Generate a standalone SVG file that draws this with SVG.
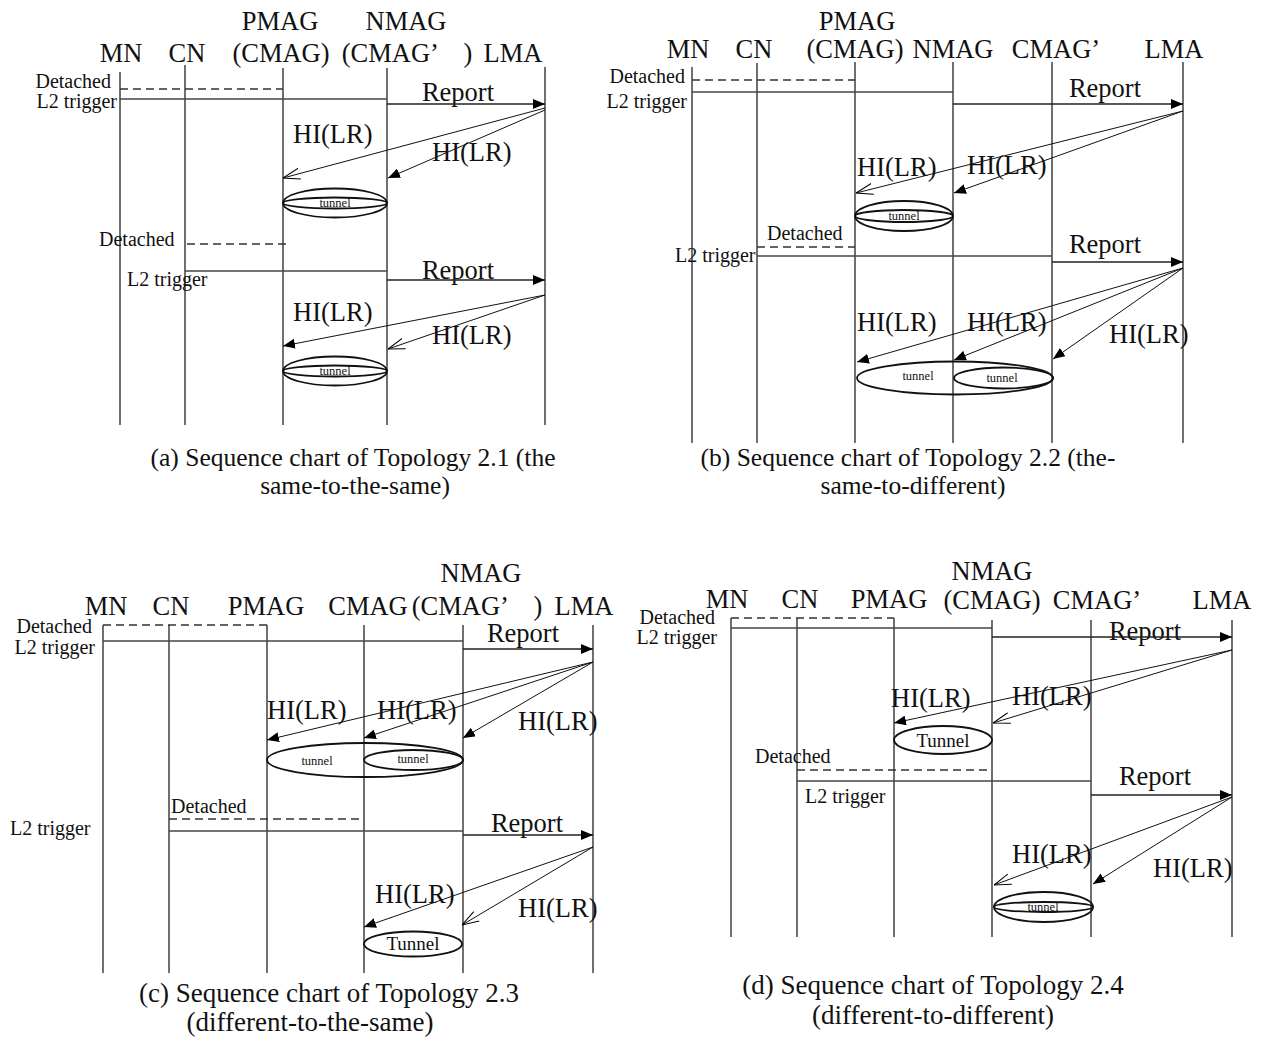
<svg xmlns="http://www.w3.org/2000/svg" width="1270" height="1041" viewBox="0 0 1270 1041">
<defs>
<style>
text{font-family:"Liberation Serif","Times New Roman","Noto Sans CJK SC",serif;fill:#111}
.h{font-size:26.5px;text-anchor:middle}
.lbl{font-size:26.5px}
.sm{font-size:20px}
.tn{font-size:12.5px;text-anchor:middle}
.Tn{font-size:19px;text-anchor:middle}
.cap{font-size:25.5px;text-anchor:middle}
.cap2{font-size:27px;text-anchor:middle}
.ll{stroke:#222;stroke-width:1.3}
.sol{stroke:#444;stroke-width:1.3}
.dsh{stroke:#333;stroke-width:1.3;stroke-dasharray:8,5}
.rep{stroke:#222;stroke-width:1.3;marker-end:url(#af)}
.hif{stroke:#111;stroke-width:1;marker-end:url(#af)}
.hio{stroke:#111;stroke-width:1;marker-end:url(#ao)}
.el{fill:none;stroke:#111;stroke-width:1.8}
</style>
<marker id="af" viewBox="0 0 12 10" markerWidth="12" markerHeight="10" refX="12" refY="5" orient="auto" markerUnits="userSpaceOnUse"><path d="M0,0 L12,5 L0,10 z" fill="#000"/></marker>
<marker id="ao" viewBox="0 0 17 12" markerWidth="17" markerHeight="12" refX="17" refY="6" orient="auto" markerUnits="userSpaceOnUse"><path d="M0,0.5 L17,6 L0,11.5" fill="none" stroke="#000" stroke-width="1"/></marker>
</defs>

<!-- Panel (a) -->
<g id="panel-a">
<g id="a-MN"><text class="h" x="121" y="62">MN</text><line class="ll" x1="120" y1="72" x2="120" y2="425"/></g>
<g id="a-CN"><text class="h" x="187" y="62">CN</text><line class="ll" x1="185" y1="65" x2="185" y2="425"/></g>
<g id="a-PMAG"><text class="h" x="280" y="30">PMAG</text><text class="h" x="281" y="62">(CMAG)</text><line class="ll" x1="283" y1="68" x2="283" y2="425"/></g>
<g id="a-NMAG"><text class="h" x="406" y="30">NMAG</text><text class="h" x="407" y="62">(CMAG’　)</text><line class="ll" x1="387" y1="68" x2="387" y2="425"/></g>
<g id="a-LMA"><text class="h" x="513" y="62">LMA</text><line class="ll" x1="545" y1="67" x2="545" y2="425"/></g>
<g id="a-tunnel1"><ellipse class="el" cx="335" cy="203" rx="52" ry="14.5"/><ellipse class="el" cx="335" cy="203" rx="52" ry="5.5"/><text class="tn" x="335" y="207">tunnel</text></g>
<g id="a-tunnel2"><ellipse class="el" cx="335" cy="371" rx="52" ry="14.5"/><ellipse class="el" cx="335" cy="371" rx="52" ry="5.5"/><text class="tn" x="335" y="375">tunnel</text></g>
<text class="sm" x="111" y="88" text-anchor="end">Detached</text>
<text class="sm" x="117" y="108" text-anchor="end">L2 trigger</text>
<text class="lbl" x="458" y="101" text-anchor="middle">Report</text>
<text class="lbl" x="293" y="143">HI(LR)</text>
<text class="lbl" x="432" y="161">HI(LR)</text>
<text class="sm" x="99" y="246">Detached</text>
<text class="sm" x="127" y="286">L2 trigger</text>
<text class="lbl" x="458" y="279" text-anchor="middle">Report</text>
<text class="lbl" x="293" y="321">HI(LR)</text>
<text class="lbl" x="432" y="344">HI(LR)</text>
<text class="cap" x="353" y="466">(a) Sequence chart of Topology 2.1 (the</text>
<text class="cap" x="355" y="494">same-to-the-same)</text>
</g>

<!-- Panel (b) -->
<g id="panel-b">
<g id="b-MN"><text class="h" x="688" y="58">MN</text><line class="ll" x1="692" y1="67" x2="692" y2="443"/></g>
<g id="b-CN"><text class="h" x="754" y="58">CN</text><line class="ll" x1="757" y1="63" x2="757" y2="443"/></g>
<g id="b-PMAG"><text class="h" x="857" y="30">PMAG</text><text class="h" x="855" y="58">(CMAG)</text><line class="ll" x1="855" y1="62" x2="855" y2="443"/></g>
<g id="b-NMAG"><text class="h" x="953" y="58">NMAG</text><line class="ll" x1="953" y1="62" x2="953" y2="443"/></g>
<g id="b-CMAG2"><text class="h" x="1056" y="58">CMAG’</text><line class="ll" x1="1052" y1="62" x2="1052" y2="443"/></g>
<g id="b-LMA"><text class="h" x="1174" y="58">LMA</text><line class="ll" x1="1183" y1="62" x2="1183" y2="443"/></g>
<g id="b-tunnel1"><ellipse class="el" cx="904" cy="216" rx="49" ry="15"/><ellipse class="el" cx="904" cy="216" rx="49" ry="6"/><text class="tn" x="904" y="220">tunnel</text></g>
<g id="b-tunnel2"><ellipse class="el" cx="955" cy="378" rx="98" ry="16.5"/><ellipse class="el" cx="1003.5" cy="378" rx="49.5" ry="10.5"/><text class="tn" x="918" y="380">tunnel</text><text class="tn" x="1002" y="382">tunnel</text></g>
<text class="sm" x="685" y="83" text-anchor="end">Detached</text>
<text class="sm" x="687" y="108" text-anchor="end">L2 trigger</text>
<text class="lbl" x="1105" y="97" text-anchor="middle">Report</text>
<text class="lbl" x="857" y="176">HI(LR)</text>
<text class="lbl" x="967" y="174">HI(LR)</text>
<text class="sm" x="767" y="240">Detached</text>
<text class="sm" x="675" y="262">L2 trigger</text>
<text class="lbl" x="1105" y="253" text-anchor="middle">Report</text>
<text class="lbl" x="857" y="331">HI(LR)</text>
<text class="lbl" x="967" y="331">HI(LR)</text>
<text class="lbl" x="1109" y="343">HI(LR)</text>
<text class="cap" x="908" y="466">(b) Sequence chart of Topology 2.2 (the-</text>
<text class="cap" x="913" y="494">same-to-different)</text>
</g>

<!-- Panel (c) -->
<g id="panel-c">
<g id="c-MN"><text class="h" x="106" y="615">MN</text><line class="ll" x1="103" y1="625" x2="103" y2="973"/></g>
<g id="c-CN"><text class="h" x="171" y="615">CN</text><line class="ll" x1="169" y1="625" x2="169" y2="973"/></g>
<g id="c-PMAG"><text class="h" x="266" y="615">PMAG</text><line class="ll" x1="267" y1="625" x2="267" y2="973"/></g>
<g id="c-CMAG"><text class="h" x="368" y="615">CMAG</text><line class="ll" x1="364" y1="625" x2="364" y2="973"/></g>
<g id="c-NMAG"><text class="h" x="481" y="582">NMAG</text><text class="h" x="477" y="615">(CMAG’　)</text><line class="ll" x1="463" y1="625" x2="463" y2="973"/></g>
<g id="c-LMA"><text class="h" x="584" y="615">LMA</text><line class="ll" x1="593" y1="625" x2="593" y2="973"/></g>
<g id="c-tunnel1"><ellipse class="el" cx="365" cy="760" rx="98" ry="17"/><ellipse class="el" cx="413.5" cy="760" rx="49.5" ry="10"/><text class="tn" x="317" y="765">tunnel</text><text class="tn" x="413" y="763">tunnel</text></g>
<g id="c-tunnel2"><ellipse class="el" cx="413" cy="944" rx="49" ry="12.5"/><text class="Tn" x="413" y="950">Tunnel</text></g>
<text class="sm" x="92" y="633" text-anchor="end">Detached</text>
<text class="sm" x="95" y="654" text-anchor="end">L2 trigger</text>
<text class="lbl" x="523" y="642" text-anchor="middle">Report</text>
<text class="lbl" x="267" y="719">HI(LR)</text>
<text class="lbl" x="377" y="719">HI(LR)</text>
<text class="lbl" x="518" y="730">HI(LR)</text>
<text class="sm" x="171" y="813">Detached</text>
<text class="sm" x="10" y="835">L2 trigger</text>
<text class="lbl" x="527" y="832" text-anchor="middle">Report</text>
<text class="lbl" x="375" y="903">HI(LR)</text>
<text class="lbl" x="518" y="917">HI(LR)</text>
<text class="cap2" x="329" y="1002">(c) Sequence chart of Topology 2.3</text>
<text class="cap2" x="310" y="1031">(different-to-the-same)</text>
</g>

<!-- Panel (d) -->
<g id="panel-d">
<g id="d-MN"><text class="h" x="727" y="608">MN</text><line class="ll" x1="731" y1="618" x2="731" y2="937"/></g>
<g id="d-CN"><text class="h" x="800" y="608">CN</text><line class="ll" x1="797" y1="618" x2="797" y2="937"/></g>
<g id="d-PMAG"><text class="h" x="889" y="608">PMAG</text><line class="ll" x1="894" y1="618" x2="894" y2="937"/></g>
<g id="d-NMAG"><text class="h" x="992" y="580">NMAG</text><text class="h" x="992" y="609">(CMAG)</text><line class="ll" x1="992" y1="620" x2="992" y2="937"/></g>
<g id="d-CMAG2"><text class="h" x="1097" y="609">CMAG’</text><line class="ll" x1="1091" y1="620" x2="1091" y2="937"/></g>
<g id="d-LMA"><text class="h" x="1222" y="609">LMA</text><line class="ll" x1="1232" y1="620" x2="1232" y2="937"/></g>
<g id="d-tunnel1"><ellipse class="el" cx="943" cy="740" rx="49" ry="14"/><text class="Tn" x="943" y="747">Tunnel</text></g>
<g id="d-tunnel2"><ellipse class="el" cx="1043.5" cy="907" rx="49.5" ry="15"/><ellipse class="el" cx="1043.5" cy="907" rx="49.5" ry="5"/><text class="tn" x="1043" y="911">tunnel</text></g>
<text class="sm" x="715" y="624" text-anchor="end">Detached</text>
<text class="sm" x="717" y="644" text-anchor="end">L2 trigger</text>
<text class="lbl" x="1145" y="640" text-anchor="middle">Report</text>
<text class="lbl" x="891" y="707">HI(LR)</text>
<text class="lbl" x="1012" y="705">HI(LR)</text>
<text class="sm" x="755" y="763">Detached</text>
<text class="sm" x="805" y="803">L2 trigger</text>
<text class="lbl" x="1155" y="785" text-anchor="middle">Report</text>
<text class="lbl" x="1012" y="863">HI(LR)</text>
<text class="lbl" x="1153" y="877">HI(LR)</text>
<text class="cap2" x="933" y="994">(d) Sequence chart of Topology 2.4</text>
<text class="cap2" x="933" y="1024">(different-to-different)</text>
</g>

<g id="connectors">
<!-- a -->
<line class="dsh" x1="120" y1="89" x2="283" y2="89"/>
<line class="sol" x1="120" y1="99" x2="387" y2="99"/>
<line class="rep" x1="387" y1="104" x2="545" y2="104"/>
<line class="hio" x1="545" y1="108" x2="283" y2="178"/>
<line class="hif" x1="545" y1="110" x2="388" y2="178"/>
<line class="dsh" x1="187" y1="244" x2="286" y2="244"/>
<line class="sol" x1="185" y1="271" x2="387" y2="271"/>
<line class="rep" x1="387" y1="280" x2="545" y2="280"/>
<line class="hif" x1="545" y1="295" x2="283" y2="346"/>
<line class="hio" x1="545" y1="295" x2="388" y2="349"/>
<!-- b -->
<line class="dsh" x1="692" y1="80" x2="855" y2="80"/>
<line class="sol" x1="692" y1="92" x2="953" y2="92"/>
<line class="rep" x1="953" y1="104" x2="1183" y2="104"/>
<line class="hio" x1="1183" y1="111" x2="856" y2="193"/>
<line class="hif" x1="1183" y1="111" x2="954" y2="193"/>
<line class="dsh" x1="757" y1="247" x2="855" y2="247"/>
<line class="sol" x1="757" y1="256" x2="1052" y2="256"/>
<line class="rep" x1="1052" y1="262" x2="1183" y2="262"/>
<line class="hif" x1="1183" y1="268" x2="857" y2="362"/>
<line class="hif" x1="1183" y1="268" x2="954" y2="360"/>
<line class="hif" x1="1183" y1="268" x2="1053" y2="359"/>
<!-- c -->
<line class="dsh" x1="103" y1="625" x2="267" y2="625"/>
<line class="sol" x1="103" y1="641" x2="463" y2="641"/>
<line class="rep" x1="463" y1="649" x2="593" y2="649"/>
<line class="hif" x1="593" y1="662" x2="267" y2="740"/>
<line class="hif" x1="593" y1="662" x2="364" y2="738"/>
<line class="hif" x1="593" y1="662" x2="463" y2="738"/>
<line class="dsh" x1="169" y1="819" x2="364" y2="819"/>
<line class="sol" x1="169" y1="831" x2="463" y2="831"/>
<line class="rep" x1="463" y1="835" x2="593" y2="835"/>
<line class="hif" x1="593" y1="847" x2="364" y2="927"/>
<line class="hio" x1="593" y1="847" x2="462" y2="925"/>
<!-- d -->
<line class="dsh" x1="731" y1="618" x2="894" y2="618"/>
<line class="sol" x1="731" y1="628" x2="992" y2="628"/>
<line class="rep" x1="992" y1="637" x2="1232" y2="637"/>
<line class="hif" x1="1232" y1="650" x2="894" y2="723"/>
<line class="hio" x1="1232" y1="650" x2="993" y2="723"/>
<line class="dsh" x1="797" y1="770" x2="992" y2="770"/>
<line class="sol" x1="797" y1="781" x2="1091" y2="781"/>
<line class="rep" x1="1091" y1="795" x2="1232" y2="795"/>
<line class="hio" x1="1232" y1="797" x2="994" y2="885"/>
<line class="hif" x1="1232" y1="797" x2="1093" y2="884"/>
</g>
</svg>
